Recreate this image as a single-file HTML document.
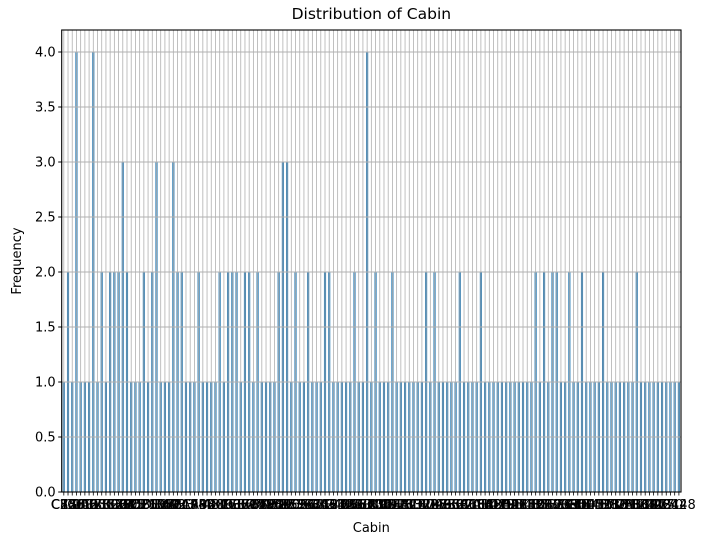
<!DOCTYPE html>
<html><head><meta charset="utf-8"><style>
body{margin:0;background:#fff;}
svg{display:block;font-family:"DejaVu Sans","Liberation Sans",sans-serif;}
</style></head><body>
<svg id="chart" width="707" height="545" viewBox="0 0 707 545"></svg>
<script>
const categories = ["C85","C123","E46","G6","C103","D56","A6","C23 C25 C27","B78","D33","B30","C52","B28","C83","F33","F G73","E31","A5","D10 D12","D26","C110","B58 B60","E101","F E69","D47","B86","F2","C2","E33","B19","A7","C49","F4","A32","B4","B80","A31","D36","D15","C93","C78","D35","C87","B77","E67","B94","C125","C99","C118","D7","A19","B49","D","C22 C26","C106","C65","E36","C54","B57 B59 B63 B66","C7","E34","C32","B18","C124","C91","E40","T","C128","D37","B35","E50","C82","B96 B98","E10","E44","A34","C104","C111","C92","E38","D21","E12","E63","A14","B37","C30","D20","B79","E25","D46","B73","C95","B38","B39","B22","C86","C70","A16","C101","C68","A10","E68","B41","A20","D19","D50","D9","A23","B50","A26","D48","E58","C126","B71","B51 B53 B55","D49","B5","B20","F G63","C62 C64","E24","C90","C45","E8","B101","D45","C46","D30","E121","D11","E77","F38","B3","D6","B82 B84","D17","A36","B102","B69","E49","C47","D28","E17","A24","C50","B42","C148"];
const counts = [1,2,1,4,1,1,1,4,1,2,1,2,2,2,3,2,1,1,1,2,1,2,3,1,1,1,3,2,2,1,1,1,2,1,1,1,1,2,1,2,2,2,1,2,2,1,2,1,1,1,1,2,3,3,1,2,1,1,2,1,1,1,2,2,1,1,1,1,1,2,1,1,4,1,2,1,1,1,2,1,1,1,1,1,1,1,2,1,2,1,1,1,1,1,2,1,1,1,1,2,1,1,1,1,1,1,1,1,1,1,1,1,2,1,2,1,2,2,1,1,2,1,1,2,1,1,1,1,2,1,1,1,1,1,1,1,2,1,1,1,1,1,1,1,1,1,1];
const yTicks = [0,0.5,1,1.5,2,2.5,3,3.5,4];
const yMax = 4.2;

const NS="http://www.w3.org/2000/svg";
const svg=document.getElementById('chart');
const L=61.7,R=681,T=30,B=492;
const n=categories.length;
const step=(R-L)/n;
const xScale=i=>L+(i+0.5)*step;
const yScale=v=>B-(v/yMax)*(B-T);
function mk(tag,attrs){const e=document.createElementNS(NS,tag);for(const k in attrs)e.setAttribute(k,attrs[k]);svg.appendChild(e);return e;}

const bw=step*0.5;
counts.forEach((v,i)=>{
  const r=mk('rect',{x:xScale(i)-bw/2,y:yScale(v),width:bw,height:B-yScale(v),fill:'#1f77b4'});
  
  
});
categories.forEach((c,i)=>{
  const g=mk('line',{x1:xScale(i),x2:xScale(i),y1:T,y2:B,stroke:'#b0b0b0','stroke-width':0.8});
  
  
});
yTicks.forEach(t=>{
  const g=mk('line',{x1:L,x2:R,y1:yScale(t),y2:yScale(t),stroke:'#b0b0b0','stroke-width':1});
  
  
  const tk=mk('line',{x1:L-3.5,x2:L,y1:yScale(t),y2:yScale(t),stroke:'#000','stroke-width':1});
  
  
  const tx=mk('text',{x:L-6,y:yScale(t)+4.5,'text-anchor':'end','font-size':13,fill:'#000'});
  tx.textContent=t.toFixed(1);
  
  
});
categories.forEach((c,i)=>{
  const tk=mk('line',{x1:xScale(i),x2:xScale(i),y1:B,y2:B+3.5,stroke:'#000','stroke-width':0.8});
  
  
  const tx=mk('text',{x:xScale(i),y:B+17,'text-anchor':'middle','font-size':13,fill:'#000'});
  tx.textContent=c;
  
  
});
const frame=mk('rect',{x:L,y:T,width:R-L,height:B-T,fill:'none',stroke:'#000','stroke-width':1.1});


const title=mk('text',{x:(L+R)/2,y:19,'text-anchor':'middle','font-size':15.5,fill:'#000'});
title.textContent='Distribution of Cabin';


const xl=mk('text',{x:(L+R)/2,y:532,'text-anchor':'middle','font-size':13,fill:'#000'});
xl.textContent='Cabin';


const yl=mk('text',{x:0,y:0,'text-anchor':'middle','font-size':13,fill:'#000',transform:'translate(21,'+((T+B)/2)+') rotate(-90)'});
yl.textContent='Frequency';


</script>
</body></html>
